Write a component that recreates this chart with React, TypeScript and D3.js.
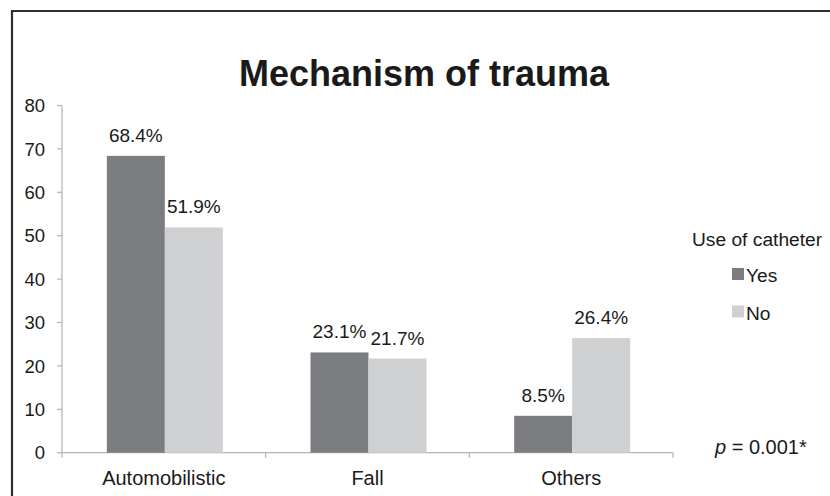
import React from "react";
import * as d3 from "d3";

const categories = ["Automobilistic", "Fall", "Others"];
const seriesNames = ["Yes", "No"];
const yesValues = [68.4, 23.1, 8.5];
const noValues = [51.9, 21.7, 26.4];
const yTicks = [0, 10, 20, 30, 40, 50, 60, 70, 80];
const colors = ["#7c7d81", "#cfd0d2"];

const W = 830;
const H = 496;
const FONT = "'Liberation Sans', Arial, sans-serif";

export default function App() {
  const x0 = d3.scaleBand<string>().domain(categories).range([62, 673]).paddingInner(0).paddingOuter(0);
  const y = d3.scaleLinear().domain([0, 80]).range([452.7, 105.5]);
  const barW = 58;
  const series = [yesValues, noValues];
  const axisColor = "#b3b3b3";

  return (
    <svg width={W} height={H} style={{ position: "absolute", left: 0, top: 0 }} fontFamily={FONT}>
      <rect x={0} y={0} width={W} height={H} fill="#fff" />
      <path d={`M12,${H} L12,11 L${W},11`} fill="none" stroke="#2e2e2e" strokeWidth={2.2} />
      <text x={424} y={86} textAnchor="middle" fontSize={36} fontWeight="bold" fill="#1a1a1a">
        Mechanism of trauma
      </text>
      {/* y axis */}
      <line x1={62} x2={62} y1={y(80)} y2={y(0)} stroke={axisColor} strokeWidth={1.2} />
      {yTicks.map((t) => (
        <g key={t}>
          <line x1={57} x2={62} y1={y(t)} y2={y(t)} stroke={axisColor} strokeWidth={1.2} />
          <text x={45} y={y(t)} dy="0.36em" textAnchor="end" fontSize={18.5} fill="#1a1a1a">
            {t}
          </text>
        </g>
      ))}
      {/* x axis */}
      <line x1={62} x2={673} y1={y(0)} y2={y(0)} stroke={axisColor} strokeWidth={1.2} />
      {[...categories.map((c) => x0(c) as number), 673].map((xv, i) => (
        <line key={i} x1={xv} x2={xv} y1={y(0)} y2={y(0) + 5} stroke={axisColor} strokeWidth={1.2} />
      ))}
      {categories.map((c, ci) => {
        const cx = (x0(c) as number) + x0.bandwidth() / 2 + 1;
        return (
          <g key={c}>
            {series.map((vals, si) => {
              const bx = cx - barW + si * barW;
              return (
                <g key={si}>
                  <rect x={bx} y={y(vals[ci])} width={barW} height={y(0) - y(vals[ci])} fill={colors[si]} />
                  <text x={bx + barW / 2} y={y(vals[ci]) - 14} textAnchor="middle" fontSize={19} fill="#1a1a1a">
                    {vals[ci].toFixed(1)}%
                  </text>
                </g>
              );
            })}
            <text x={cx - 1} y={485} textAnchor="middle" fontSize={20} fill="#1a1a1a">
              {c}
            </text>
          </g>
        );
      })}
      {/* legend */}
      <text x={692} y={246} fontSize={19.2} fill="#1a1a1a">Use of catheter</text>
      {seriesNames.map((s, i) => (
        <g key={s}>
          <rect x={732} y={268 + i * 37.5} width={12} height={12} fill={colors[i]} />
          <text x={746} y={282 + i * 37.5} fontSize={19.2} fill="#1a1a1a">{s}</text>
        </g>
      ))}
      <text x={715} y={454} fontSize={20} fill="#1a1a1a">
        <tspan fontStyle="italic">p</tspan> = 0.001*
      </text>
    </svg>
  );
}
